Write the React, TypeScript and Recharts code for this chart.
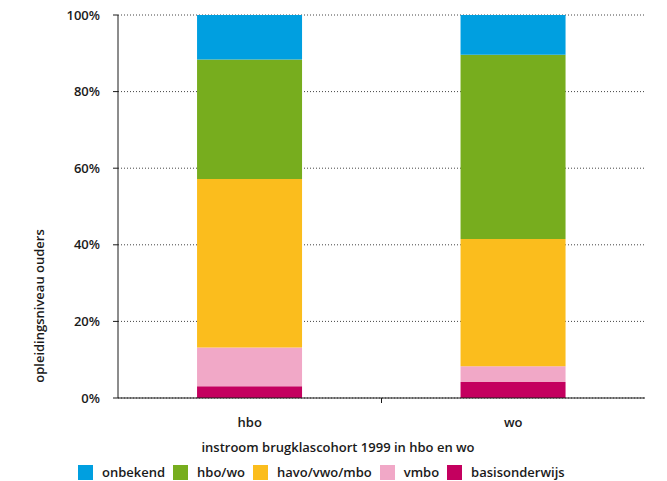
import { BarChart, Bar, XAxis, YAxis, CartesianGrid } from 'recharts'

const categories = ['hbo', 'wo']
const basisonderwijs = [3.1, 4.2]
const vmbo = [10.1, 4.1]
const havoVwoMbo = [44.0, 33.2]
const hboWo = [31.2, 48.1]
const onbekend = [11.6, 10.4]
const yTicks = [0, 20, 40, 60, 80, 100]

const series = [
  { key: 'basisonderwijs', name: 'basisonderwijs', color: '#c4005f', values: basisonderwijs },
  { key: 'vmbo', name: 'vmbo', color: '#f1a8c7', values: vmbo },
  { key: 'havo', name: 'havo/vwo/mbo', color: '#fbbd1d', values: havoVwoMbo },
  { key: 'hbowo', name: 'hbo/wo', color: '#77ad1e', values: hboWo },
  { key: 'onbekend', name: 'onbekend', color: '#009fe0', values: onbekend }
]

const data = categories.map((cat, i) => {
  const row: any = { cat }
  series.forEach(s => { row[s.key] = s.values[i] })
  return row
})

const FONT = '"Open Sans", "Noto Sans", sans-serif'
const TEXT = '#1a1a1a'

const XTick = ({ x, y, payload, index }: any) => {
  const half = payload.offset ?? 132
  return (
    <g>
      <text x={x} y={y + 21} textAnchor="middle" fill={TEXT} fontSize={13} fontWeight={600} fontFamily={FONT}>
        {payload.value}
      </text>
      {index === 0 && <line x1={x + half} x2={x + half} y1={y - 8} y2={y - 3} stroke={TEXT} strokeWidth={1} />}
    </g>
  )
}

const XLabel = () => (
  <text x={338} y={452} textAnchor="middle" fill={TEXT} fontSize={13} fontWeight={600} fontFamily={FONT}>
    instroom brugklascohort 1999 in hbo en wo
  </text>
)

const YLabel = () => (
  <text
    x={44}
    y={306}
    transform="rotate(-90 44 306)"
    textAnchor="middle"
    fill={TEXT}
    fontSize={13}
    fontWeight={600}
    fontFamily={FONT}
  >
    opleidingsniveau ouders
  </text>
)

export default function App() {
  // legenda in de volgorde van het origineel
  const legendOrder = [...series].reverse()

  return (
    <div style={{ position: 'absolute', left: 0, top: 0, width: 667, height: 481, background: '#fff' }}>
      <BarChart
        width={667}
        height={481}
        data={data}
        margin={{ top: 15, right: 22, left: 0, bottom: 0 }}
        barCategoryGap="30%"
      >
        <CartesianGrid vertical={false} stroke="#444" strokeDasharray="1 2" />
        <XAxis
          dataKey="cat"
          height={83}
          stroke={TEXT}
          tickLine={false}
          tick={<XTick />}
          label={<XLabel />}
        />
        <YAxis
          width={118}
          domain={[0, 100]}
          ticks={yTicks}
          tickFormatter={(v: number) => `${v}%`}
          stroke={TEXT}
          tickSize={5}
          tickMargin={13}
          tick={{ fill: TEXT, fontSize: 13, fontWeight: 600, fontFamily: FONT }}
          label={<YLabel />}
        />
        {series.map(s => (
          <Bar
            key={s.key}
            dataKey={s.key}
            name={s.name}
            stackId="a"
            fill={s.color}
            isAnimationActive={false}
          />
        ))}
      </BarChart>
      <div
        style={{
          position: 'absolute',
          top: 463,
          left: 78,
          display: 'flex',
          alignItems: 'center',
          fontFamily: FONT,
          fontSize: 13,
          fontWeight: 600,
          color: TEXT
        }}
      >
        {legendOrder.map(s => (
          <div key={s.key} style={{ display: 'flex', alignItems: 'center', marginRight: 8 }}>
            <span style={{ width: 15, height: 15, background: s.color, display: 'inline-block', marginRight: 9 }} />
            <span>{s.name}</span>
          </div>
        ))}
      </div>
    </div>
  )
}
